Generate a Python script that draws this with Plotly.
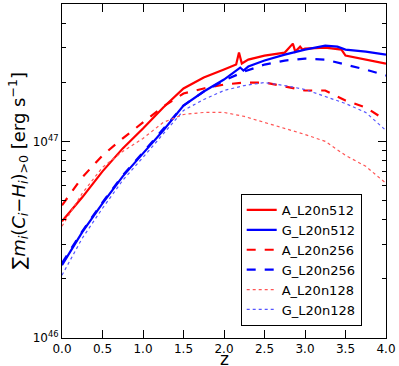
import plotly.graph_objects as go

# redshift grid
z = [0.0, 0.25, 0.5, 0.75, 1.0, 1.25, 1.5, 1.75, 2.0, 2.25, 2.5, 2.75, 3.0, 3.25, 3.5, 3.75, 4.0]

# values in units of 1e46 erg/s
z_A512 = [0.0, 0.25, 0.5, 0.75, 1.0, 1.25, 1.5, 1.75, 2.0, 2.15, 2.185, 2.22, 2.3, 2.5, 2.75, 2.85, 2.88,
          2.94, 2.97, 3.0, 3.25, 3.45, 3.5, 3.75, 4.0]
A_L20n512 = [3.926, 5.196, 7.043, 9.215, 11.64, 14.88, 18.58, 21.13, 23.20, 24.60, 28.30, 24.89, 26.08, 27.33,
             28.30, 31.44, 28.63, 30.35, 29.31, 29.65, 30.00, 29.31, 27.33, 26.08, 24.89]

z_G512 = [0.0, 0.25, 0.5, 0.75, 1.0, 1.25, 1.5, 1.75, 2.0, 2.2, 2.24, 2.3, 2.5, 2.75, 3.0, 3.25, 3.4, 3.5, 3.75, 4.0]
G_L20n512 = [2.348, 3.452, 4.845, 6.643, 8.692, 11.37, 15.23, 17.94, 20.64, 23.75, 22.94, 24.03, 25.78, 27.64,
             29.31, 30.71, 30.35, 29.31, 28.63, 27.64]

A_L20n256 = [4.733, 6.567, 8.49, 10.36, 12.49, 15.06, 17.53, 18.58, 19.47, 19.93, 19.93, 19.02, 18.15, 18.15,
             16.15, 14.88, 12.79]
G_L20n256 = [2.403, 3.492, 4.902, 6.721, 8.795, 11.51, 15.23, 17.94, 20.40, 22.67, 24.60, 25.78, 26.38, 26.08,
             24.60, 23.20, 21.63]
A_L20n128 = [3.702, 5.445, 7.379, 8.897, 10.36, 12.49, 13.71, 14.04, 14.04, 13.40, 12.49, 11.64, 10.85, 10.00,
             8.49, 7.468, 6.120]
G_L20n128 = [2.088, 3.218, 4.570, 6.339, 8.294, 10.98, 14.37, 16.34, 18.15, 19.24, 19.93, 19.24, 18.37, 16.92,
             15.59, 14.04, 11.37]

UNIT = 1e46

x_ticks = [0.0, 0.5, 1.0, 1.5, 2.0, 2.5, 3.0, 3.5, 4.0]
y_ticks = [1e46, 1e47]
y_ticktext = ["10<sup>46</sup>", "10<sup>47</sup>"]
y_minor = [2e46, 3e46, 4e46, 5e46, 6e46, 7e46, 8e46, 9e46, 2e47, 3e47, 4e47, 5e47]

series = [
    ("A_L20n512", z_A512, A_L20n512, "#ff0000", "solid", 2.2),
    ("G_L20n512", z_G512, G_L20n512, "#0000ff", "solid", 2.2),
    ("A_L20n256", z, A_L20n256, "#ff0000", "dash", 2.2),
    ("G_L20n256", z, G_L20n256, "#0000ff", "dash", 2.2),
    ("A_L20n128", z, A_L20n128, "#ff5555", "dot", 1.2),
    ("G_L20n128", z, G_L20n128, "#5555ff", "dot", 1.2),
]

fig = go.Figure()
for name, xs, ys, col, dash, w in series:
    fig.add_trace(go.Scatter(x=xs, y=[v * UNIT for v in ys], mode="lines", name=name,
                             line=dict(color=col, dash=dash, width=w)))

font = "DejaVu Sans"
fig.update_layout(
    width=399, height=366,
    margin=dict(l=62, r=13, t=4, b=28, autoexpand=False),
    paper_bgcolor="white", plot_bgcolor="white",
    font=dict(family=font, color="black", size=12),
    showlegend=True,
    legend=dict(x=0.925, y=0.036, xanchor="right", yanchor="bottom",
                bordercolor="black", borderwidth=1, bgcolor="white",
                font=dict(size=13, family=font), tracegroupgap=0, itemwidth=30),
    annotations=[
        dict(text="z", xref="paper", yref="paper", x=0.5, y=0, xanchor="center", yanchor="top",
             yshift=-10, showarrow=False, borderpad=0, font=dict(size=17, family=font)),
        dict(text="∑<i>m<sub>i</sub></i>(<i>C<sub>i</sub></i>−<i>H<sub>i</sub></i>)<sub>>0</sub> [erg s<sup>−1</sup>]",
             xref="paper", yref="paper", x=0, y=0.5, xanchor="center", yanchor="middle",
             xshift=-44, textangle=-90, showarrow=False, font=dict(size=18, family=font)),
    ],
)
fig.update_xaxes(
    range=[0, 4], tickvals=x_ticks, ticktext=[f"{t:.1f}" for t in x_ticks],
    ticks="inside", ticklen=8, tickcolor="black", showline=True, linecolor="black",
    linewidth=1, mirror="allticks", showgrid=False, zeroline=False, automargin=False,
    tickfont=dict(size=12),
)
fig.update_yaxes(
    type="log", range=[46, 47.699], tickvals=y_ticks, ticktext=y_ticktext,
    ticks="inside", ticklen=8, tickcolor="black", showline=True, linecolor="black",
    linewidth=1, mirror="allticks", showgrid=False, zeroline=False, automargin=False,
    tickfont=dict(size=12),
    minor=dict(tickvals=y_minor, ticks="inside", ticklen=4, tickcolor="black", showgrid=False),
)

fig.write_html("out.html", config={"displayModeBar": False},
               post_script="document.body.style.margin='0px';")
